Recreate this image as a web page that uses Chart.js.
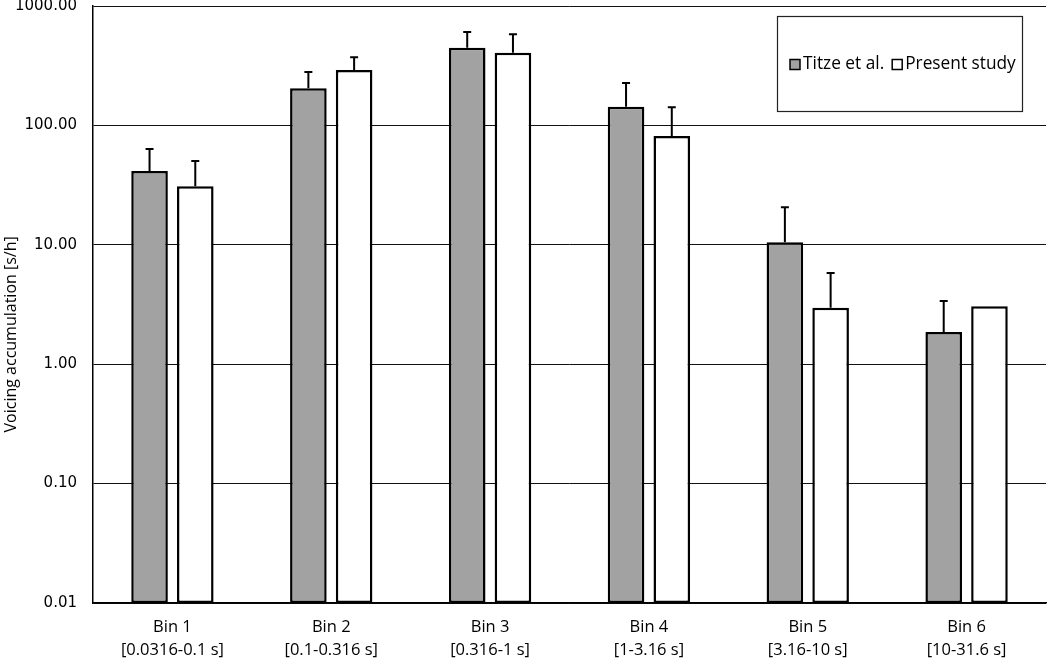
<!DOCTYPE html>
<html>
<head>
<meta charset="utf-8">
<script src="https://cdn.jsdelivr.net/npm/chart.js@4/dist/chart.umd.min.js"></script>
<style>
  html, body { margin: 0; padding: 0; background: #fff; }
  #wrap { width: 1050px; height: 659px; position: relative; }
</style>
</head>
<body>
<div id="wrap"><canvas id="c"></canvas></div>
<script>
// ---- data ----
const categories = [
  ["Bin 1", "[0.0316-0.1 s]"],
  ["Bin 2", "[0.1-0.316 s]"],
  ["Bin 3", "[0.316-1 s]"],
  ["Bin 4", "[1-3.16 s]"],
  ["Bin 5", "[3.16-10 s]"],
  ["Bin 6", "[10-31.6 s]"]
];
const seriesNames = ["Titze et al.", "Present study"];
const titzeValues = [41.5, 205, 448, 143.5, 10.5, 1.86];
const titzeErrorTops = [63.4, 280, 605, 226, 20.6, 3.38];
const presentValues = [31, 291, 406, 81.5, 2.97, 3.05];
const presentErrorTops = [50.3, 372, 580, 141.6, 5.8, null];
const yTickValues = [0.01, 0.1, 1, 10, 100, 1000];
const yAxisTitle = "Voicing accumulation [s/h]";

const errorTops = [titzeErrorTops, presentErrorTops];

const errorBarPlugin = {
  id: 'errorBars',
  afterDatasetsDraw(chart) {
    const ctx = chart.ctx;
    const yScale = chart.scales.y;
    ctx.save();
    ctx.strokeStyle = '#000';
    ctx.lineWidth = 2;
    chart.data.datasets.forEach((ds, i) => {
      const meta = chart.getDatasetMeta(i);
      meta.data.forEach((bar, j) => {
        const top = errorTops[i][j];
        if (top == null) return;
        const yTop = yScale.getPixelForValue(top);
        ctx.beginPath();
        ctx.moveTo(bar.x, bar.y);
        ctx.lineTo(bar.x, yTop);
        ctx.moveTo(bar.x - 4, yTop);
        ctx.lineTo(bar.x + 4, yTop);
        ctx.stroke();
      });
    });
    ctx.restore();
  }
};

const legendPlugin = {
  id: 'boxLegend',
  afterDraw(chart) {
    const ctx = chart.ctx;
    const a = chart.chartArea;
    const bx = a.right - 269, by = a.top + 10, bw = 245, bh = 95;
    ctx.save();
    ctx.fillStyle = '#fff';
    ctx.fillRect(bx, by, bw, bh);
    ctx.strokeStyle = '#222';
    ctx.lineWidth = 1.2;
    ctx.strokeRect(bx + 0.5, by + 0.5, bw, bh);
    ctx.font = '17.3px "Open Sans"';
    ctx.textBaseline = 'middle';
    let x = bx + 13;
    const cy = by + bh / 2 + 1;
    chart.data.datasets.forEach((ds) => {
      ctx.fillStyle = ds.backgroundColor;
      ctx.fillRect(x, cy - 5, 10, 10);
      ctx.strokeStyle = '#000';
      ctx.lineWidth = 1.5;
      ctx.strokeRect(x, cy - 5, 10, 10);
      ctx.fillStyle = '#000';
      ctx.fillText(ds.label, x + 13, cy);
      x += 13 + ctx.measureText(ds.label).width + 8;
    });
    ctx.restore();
  }
};

const yTitlePlugin = {
  id: 'yTitle',
  afterDraw(chart) {
    const ctx = chart.ctx;
    const a = chart.chartArea;
    ctx.save();
    ctx.translate(11, a.top + (a.bottom - a.top) * 0.55);
    ctx.rotate(-Math.PI / 2);
    ctx.font = '16px "Open Sans"';
    ctx.fillStyle = '#000';
    ctx.textAlign = 'center';
    ctx.textBaseline = 'middle';
    ctx.fillText(yAxisTitle, 0, 0);
    ctx.restore();
  }
};

new Chart(document.getElementById('c'), {
  type: 'bar',
  data: {
    labels: categories,
    datasets: [
      {
        label: seriesNames[0],
        data: titzeValues,
        backgroundColor: '#a2a2a2',
        borderColor: '#000',
        borderWidth: 2.5,
        borderSkipped: false,
        categoryPercentage: 0.576,
        barPercentage: 0.8
      },
      {
        label: seriesNames[1],
        data: presentValues,
        backgroundColor: '#ffffff',
        borderColor: '#000',
        borderWidth: 2.5,
        borderSkipped: false,
        categoryPercentage: 0.576,
        barPercentage: 0.8
      }
    ]
  },
  options: {
    responsive: true,
    maintainAspectRatio: false,
    animation: false,
    layout: { padding: { top: 6, right: 4, left: 0, bottom: 0 } },
    plugins: {
      legend: { display: false },
      tooltip: { enabled: false }
    },
    scales: {
      x: {
        grid: { display: false, drawTicks: false },
        border: { display: true, color: '#000', width: 1.5 },
        ticks: {
          color: '#000',
          font: { family: 'Open Sans', size: 16.5, lineHeight: 1.36 },
          padding: 13.5,
          maxRotation: 0,
          autoSkip: false
        },
        afterFit(scale) {
          scale.height = 56;
          scale.paddingLeft = 0; scale.paddingRight = 0;
        }
      },
      y: {
        type: 'logarithmic',
        min: 0.01,
        max: 1000,
        afterBuildTicks(scale) {
          scale.ticks = yTickValues.map(v => ({ value: v, major: true }));
        },
        grid: { color: '#111', lineWidth: 1, drawTicks: false },
        border: { display: true, color: '#000', width: 1.5 },
        ticks: {
          color: '#000',
          font: { family: 'DejaVu Sans', size: 15 },
          padding: 16,
          callback: (v) => Number(v).toFixed(2)
        },
        afterFit(scale) {
          scale.width = 93;
          scale.paddingTop = 0; scale.paddingBottom = 0;
        }
      }
    }
  },
  plugins: [errorBarPlugin, legendPlugin, yTitlePlugin]
});
</script>
</body>
</html>
